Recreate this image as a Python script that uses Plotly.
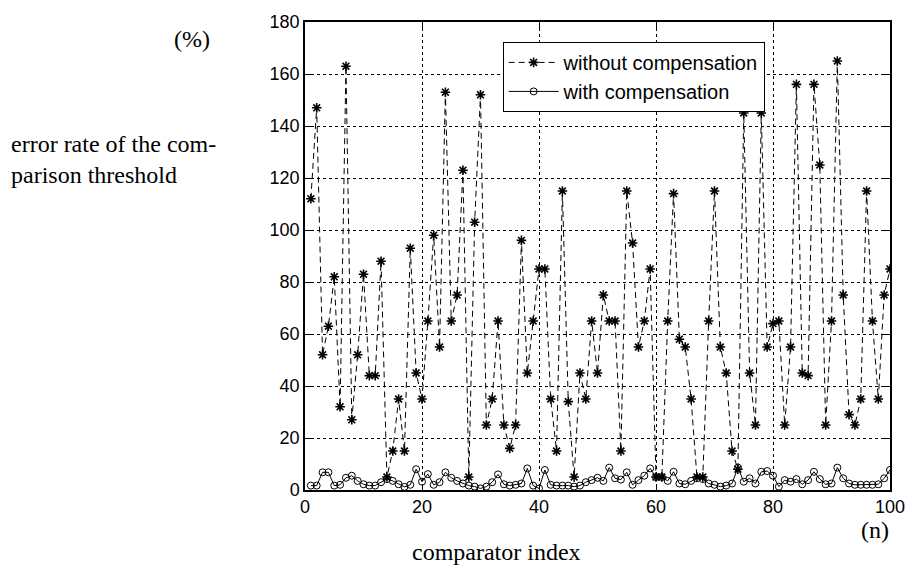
import plotly.graph_objects as go

# comparator index 1..100
comparator = list(range(1, 101))

# error rate of the comparison threshold (%) without compensation
without_comp = [
    112, 147, 52, 63, 82, 32, 163, 27, 52, 83,
    44, 44, 88, 5, 15, 35, 15, 93, 45, 35,
    65, 98, 55, 153, 65, 75, 123, 5, 103, 152,
    25, 35, 65, 25, 16, 25, 96, 45, 65, 85,
    85, 35, 15, 115, 34, 5, 45, 35, 65, 45,
    75, 65, 65, 15, 115, 95, 55, 65, 85, 5,
    5, 65, 114, 58, 55, 35, 5, 5, 65, 115,
    55, 45, 15, 8, 145, 45, 25, 145, 55, 64,
    65, 25, 55, 156, 45, 44, 156, 125, 25, 65,
    165, 75, 29, 25, 35, 115, 65, 35, 75, 85,
]

# error rate (%) with compensation
with_comp = [
    1.7, 1.7, 6.8, 6.8, 1.7, 2.0, 4.7, 5.5, 3.5, 2.2,
    1.7, 1.7, 3.0, 4.2, 3.5, 2.2, 1.2, 2.0, 8.0, 3.2,
    6.1, 2.0, 3.0, 6.8, 4.7, 3.5, 2.5, 1.7, 1.3, 0.6,
    1.3, 3.0, 6.0, 2.2, 1.7, 2.0, 2.5, 8.3, 1.7, 0.6,
    7.7, 2.0, 1.7, 1.7, 1.7, 1.3, 1.7, 3.0, 3.8, 4.7,
    3.5, 8.6, 4.5, 4.0, 6.8, 2.0, 3.8, 5.5, 8.3, 5.0,
    5.0, 3.5, 7.0, 2.5, 2.2, 3.5, 4.5, 4.2, 2.5, 2.0,
    1.3, 1.7, 2.5, 8.6, 3.2, 4.5, 2.5, 7.0, 7.3, 5.5,
    1.3, 3.8, 3.2, 4.2, 2.2, 3.8, 7.0, 4.2, 2.2, 2.5,
    8.6, 4.5, 2.5, 2.0, 2.0, 2.0, 2.0, 2.2, 4.5, 7.7,
]

x_ticks = [0, 20, 40, 60, 80, 100]
y_ticks = [0, 20, 40, 60, 80, 100, 120, 140, 160, 180]

serif = "Liberation Serif, Times New Roman, serif"
sans = "Liberation Sans, Arial, sans-serif"

W, H = 917, 566
ML, MR, MT, MB = 305, 17, 20, 76
plot_w = W - ML - MR
plot_h = H - MT - MB


def px(x):
    """page x (pixels) -> paper coordinate"""
    return (x - ML) / plot_w


def py(y):
    """page y (pixels from top) -> paper coordinate"""
    return (H - MB - y) / plot_h


fig = go.Figure()

fig.add_trace(go.Scatter(
    x=comparator, y=without_comp, mode="lines+markers",
    name="without compensation",
    line=dict(color="black", width=1, dash="6px,4px"),
    marker=dict(symbol="asterisk-open", size=8, color="black",
                line=dict(color="black", width=1.6)),
))

fig.add_trace(go.Scatter(
    x=comparator, y=with_comp, mode="lines+markers",
    name="with compensation",
    line=dict(color="black", width=1),
    marker=dict(symbol="circle-open", size=7, color="black",
                line=dict(color="black", width=1)),
))

axis_common = dict(
    showline=True, linecolor="black", linewidth=1.5, mirror="ticks",
    ticks="inside", ticklen=6, tickcolor="black", tickwidth=1,
    showgrid=True, gridcolor="black", griddash="dot", gridwidth=1,
    zeroline=False,
    tickfont=dict(family=sans, size=18, color="black"),
)

fig.update_xaxes(range=[0, 100], tickvals=x_ticks, **axis_common)
fig.update_yaxes(range=[0, 180], tickvals=y_ticks, **axis_common)

serif_font = dict(family=serif, size=24, color="black")

fig.update_layout(
    width=W, height=H,
    margin=dict(l=ML, r=MR, t=MT, b=MB),
    paper_bgcolor="white", plot_bgcolor="white",
    showlegend=True,
    legend=dict(
        x=px(506), y=py(40), xanchor="left", yanchor="top",
        bgcolor="white", bordercolor="black", borderwidth=1,
        font=dict(family=sans, size=20, color="black"),
        tracegroupgap=0, itemwidth=50,
    ),
    annotations=[
        dict(text="(%)", x=px(190), y=py(37), xref="paper", yref="paper",
             xanchor="center", yanchor="middle", showarrow=False,
             font=serif_font),
        dict(text="error rate of the com-<br>parison threshold",
             x=px(4), y=py(158), xref="paper", yref="paper",
             xanchor="left", yanchor="middle", align="left",
             showarrow=False, font=serif_font),
        dict(text="comparator index", x=px(500), y=py(552),
             xref="paper", yref="paper", xanchor="center",
             yanchor="middle", showarrow=False, font=serif_font),
        dict(text="(n)", x=px(885), y=py(530), xref="paper", yref="paper",
             xanchor="center", yanchor="middle", showarrow=False,
             font=serif_font),
    ],
)

fig.write_html("out.html")
